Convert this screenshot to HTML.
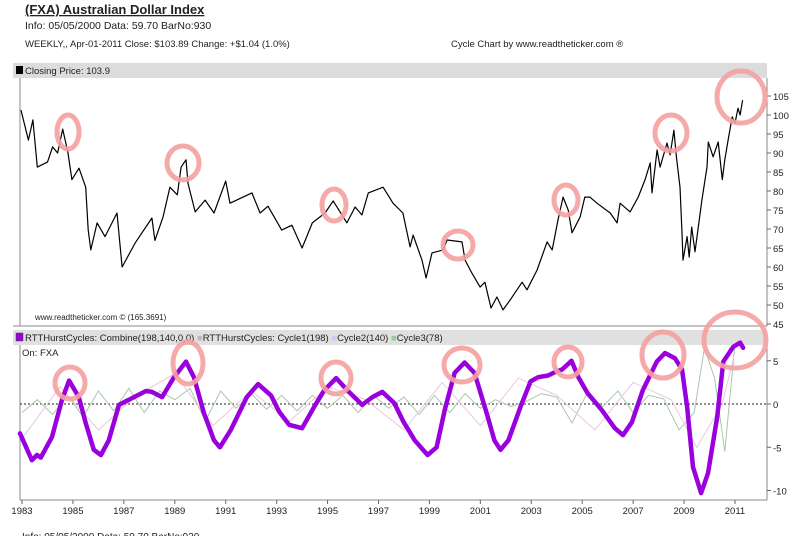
<!DOCTYPE html>
<html><head><meta charset="utf-8"><style>
body{margin:0;background:#fff;width:800px;height:536px;overflow:hidden;font-family:"Liberation Sans",sans-serif}
svg{position:absolute;left:0;top:0}
</style></head><body>
<svg width="800" height="536" font-family="Liberation Sans, sans-serif">
<text x="25" y="14" font-size="13" font-weight="bold" fill="#222" text-decoration="underline">(FXA) Australian Dollar Index</text>
<text x="25" y="29" font-size="10.5" fill="#222">Info: 05/05/2000 Data: 59.70 BarNo:930</text>
<text x="25" y="47" font-size="9.5" fill="#222">WEEKLY,, Apr-01-2011  Close: $103.89  Change: +$1.04  (1.0%)</text>
<text x="451" y="47" font-size="9.5" fill="#222">Cycle Chart by www.readtheticker.com ®</text>
<rect x="13" y="63" width="754" height="15" fill="#dcdcdc"/>
<rect x="16" y="66" width="7" height="8" fill="#000"/>
<text x="25" y="74" font-size="9.5" fill="#222">Closing Price: 103.9</text>
<line x1="20" y1="78" x2="20" y2="326" stroke="#888"/>
<line x1="13" y1="326" x2="767" y2="326" stroke="#888"/>
<line x1="767" y1="78" x2="767" y2="326" stroke="#888"/>
<text x="35" y="320" font-size="8" fill="#222">www.readtheticker.com © (165.3691)</text>
<rect x="13" y="330" width="754" height="15" fill="#e0e0e0"/>
<rect x="16" y="333" width="7" height="8" fill="#9900dd" stroke="#444" stroke-width="0.5"/>
<text x="25" y="341" font-size="9.5" fill="#222">RTTHurstCycles: Combine(198,140,0,0) <tspan fill="#bbb">■</tspan>RTTHurstCycles: Cycle1(198) <tspan fill="#ccf">■</tspan>Cycle2(140) <tspan fill="#9c9">■</tspan>Cycle3(78)</text>
<text x="22" y="356" font-size="9.5" fill="#222">On: FXA</text>
<line x1="20" y1="345" x2="20" y2="500" stroke="#888"/>
<line x1="20" y1="500" x2="767" y2="500" stroke="#888"/>
<line x1="767" y1="345" x2="767" y2="500" stroke="#888"/>
<line x1="20" y1="404" x2="767" y2="404" stroke="#222" stroke-dasharray="2,2"/>
<g id="grid"></g>
<g id="marks"></g>
<text x="22" y="540" font-size="10" fill="#222">Info: 05/05/2000 Data: 59.70 BarNo:930</text>
</svg>
<script>
const priceYears=[1982.96,1983.25,1983.43,1983.6,1984.0,1984.2,1984.4,1984.6,1984.8,1984.96,1985.24,1985.5,1985.6,1985.7,1985.95,1986.26,1986.73,1986.93,1987.44,1988.1,1988.22,1988.54,1988.81,1989.1,1989.25,1989.44,1989.52,1989.8,1990.19,1990.54,1991.0,1991.17,1992.03,1992.35,1992.66,1993.2,1993.6,1994.0,1994.4,1994.9,1995.22,1995.76,1996.08,1996.35,1996.6,1997.18,1997.57,1997.96,1998.24,1998.36,1998.71,1998.87,1999.1,1999.54,1999.69,2000.28,2000.4,2000.67,2000.99,2001.18,2001.42,2001.65,2001.89,2002.17,2002.64,2002.83,2003.23,2003.62,2003.82,2004.05,2004.25,2004.45,2004.6,2004.92,2005.1,2005.3,2005.58,2006.1,2006.37,2006.49,2006.88,2007.2,2007.47,2007.67,2007.74,2007.94,2008.06,2008.33,2008.45,2008.6,2008.7,2008.84,2008.92,2008.96,2009.12,2009.2,2009.3,2009.43,2009.7,2009.9,2009.95,2010.14,2010.34,2010.5,2010.6,2010.73,2010.89,2011.0,2011.12,2011.2,2011.3];
const priceValues=[101.3,93.4,98.7,86.3,87.6,91.6,90,96.3,90.3,83,86,81,69.7,64.5,71.6,68,74.2,60,66.3,72.9,67,73.2,81,79,86.3,88.2,82,74.5,77.6,74.2,82.6,76.8,79.5,74.2,76,69.7,71,65,71.6,74.2,77.4,71.6,75.8,73.7,79.5,81,76.8,74.2,65.3,68.4,61.8,57.1,63.7,64.5,67.1,66.6,61.8,58.4,54.7,56,49.2,52.1,48.7,51.3,56,54,59.2,66.6,64.5,72.4,78.4,75,69,73.2,78.4,78.4,76.8,74.2,71.6,76.8,74.5,78.4,83,87.4,79.5,90.8,86.3,92.6,89.5,96,89,81,69,61.8,68,62.6,70.5,64,77.6,86.3,92.9,89,92.9,83,88.2,93.4,99.5,97.9,101.8,100,103.9];
const cycleYears=[1982.92,1983.39,1983.59,1983.74,1984.18,1984.57,1984.85,1985.23,1985.5,1985.82,1986.1,1986.41,1986.81,1987.4,1987.87,1988.1,1988.5,1988.97,1989.44,1989.75,1990.14,1990.54,1990.77,1991.2,1991.83,1992.27,1992.78,1993.1,1993.49,1994.0,1994.48,1994.87,1995.34,1995.77,1996.36,1996.76,1997.15,1997.62,1997.97,1998.42,1998.93,1999.28,1999.6,1999.99,2000.38,2000.77,2001.24,2001.55,2001.79,2002.1,2002.58,2002.97,2003.27,2003.66,2003.94,2004.22,2004.58,2004.85,2005.2,2005.77,2006.28,2006.6,2006.95,2007.38,2007.93,2008.25,2008.64,2008.92,2009.12,2009.35,2009.67,2009.94,2010.3,2010.54,2010.93,2011.2,2011.32];
const cycleCombine=[-3.4,-6.5,-5.9,-6.2,-3.8,0.5,2.7,0.8,-2.2,-5.3,-5.9,-4.2,-0.1,0.8,1.5,1.4,0.8,3.1,4.9,3.1,-1.0,-4.2,-5,-3,0.8,2.3,1.0,-0.9,-2.4,-2.8,-0.3,1.6,3.0,1.6,-0.1,0.8,1.4,0.1,-2.0,-4.2,-5.9,-5,-0.7,3.6,4.8,3.6,-1.0,-4.2,-5.3,-4.2,-0.3,2.6,3.1,3.3,3.7,4.0,5.0,3.1,1.3,-0.7,-2.8,-3.6,-2.1,1.6,4.9,5.9,5.3,4.0,-0.3,-7.3,-10.3,-8.0,-1.5,4.9,6.6,7.1,6.5];
const cycle3Years=[1983,1983.6,1984.2,1984.8,1985.4,1986,1986.6,1987.2,1987.8,1988.4,1989,1989.6,1990.2,1990.8,1991.4,1992,1992.6,1993.2,1993.8,1994.4,1995,1995.6,1996.2,1996.8,1997.4,1998,1998.6,1999.2,1999.8,2000.4,2001,2001.6,2002.2,2002.8,2003.4,2004,2004.6,2005.2,2005.8,2006.4,2007,2007.6,2008.2,2008.8,2009.4,2009.8,2010.2,2010.6,2011];
const cycle3Values=[-1,0.5,-1.2,1,-1.5,1.5,-0.8,1.8,-1,1.5,0.5,1.8,-2,1.5,-0.5,1.2,-0.6,1.0,-0.8,1.0,-0.5,1.0,-1,1.0,-0.5,0.8,-1.2,1.0,-1.0,1.2,-0.5,0.5,-0.3,0.3,1.2,0.8,-2.2,1.3,-0.3,1.5,-1.0,1.0,0.6,-3,-1,6.5,3,-5.5,7];
const cycle1Years=[1983,1984.5,1986,1987.5,1989,1990.5,1992,1993.5,1995,1996.5,1998,1999.5,2001,2002.5,2004,2005.5,2007,2008.5,2009.5,2010.5,2011];
const cycle1Values=[-4,2,-3,1,3.5,-2.5,1.5,-2,2,0.5,-3,2.5,-2.5,3,1,-3,2.5,0.5,-5,0,6];
const priceTicks=[105,100,95,90,85,80,75,70,65,60,55,50,45];
const cycleTicks=[5,0,-5,-10];
const yearTicks=[1983,1985,1987,1989,1991,1993,1995,1997,1999,2001,2003,2005,2007,2009,2011];
const xS=y=>22+(y-1983)*25.464;
const pY=v=>96+(105-v)*3.8;
const cY=v=>404-v*8.65;
const NS='http://www.w3.org/2000/svg';
const grid=document.getElementById('grid'),marks=document.getElementById('marks');
function mk(tag,attrs,parent){const e=document.createElementNS(NS,tag);for(const k in attrs)e.setAttribute(k,attrs[k]);parent.appendChild(e);return e;}
priceTicks.forEach(v=>{
 mk('line',{x1:767,x2:771,y1:pY(v),y2:pY(v),stroke:'#666'},grid);
 const t=mk('text',{x:773,y:pY(v)+4,'font-size':9.5,fill:'#222'},grid);t.textContent=v;
 
 
});
cycleTicks.forEach(v=>{
 mk('line',{x1:767,x2:771,y1:cY(v),y2:cY(v),stroke:'#666'},grid);
 const t=mk('text',{x:773,y:cY(v)+4,'font-size':9.5,fill:'#222'},grid);t.textContent=v;
 
 
});
yearTicks.forEach(y=>{
 mk('line',{x1:xS(y),x2:xS(y),y1:500,y2:504,stroke:'#666'},grid);
 const t=mk('text',{x:xS(y),y:514,'font-size':9.5,fill:'#222','text-anchor':'middle'},grid);t.textContent=y;
 
 
});
function pts(xs,vs,f){return xs.map((x,i)=>xS(x).toFixed(1)+','+f(vs[i]).toFixed(1)).join(' ');}
const c3=mk('polyline',{points:pts(cycle3Years,cycle3Values,cY),fill:'none',stroke:'#a8c8a8','stroke-width':1},marks);


const c1=mk('polyline',{points:pts(cycle1Years,cycle1Values,cY),fill:'none',stroke:'#e8c8e0','stroke-width':1},marks);


const pl=mk('polyline',{points:pts(priceYears,priceValues,pY),fill:'none',stroke:'#000','stroke-width':1.2,'stroke-linejoin':'round'},marks);


const cl=mk('polyline',{points:pts(cycleYears,cycleCombine,cY),fill:'none',stroke:'#9900dd','stroke-width':4.5,'stroke-linejoin':'round','stroke-linecap':'round'},marks);


const circles=[[68,132,11,17],[183,163,16,17],[334,205,12,16],[458,245,15,14],[566,200,12,15],[671,133,16,18],[741,97,24,26],[70,383,15,16],[188,363,15,21],[336,378,15,16],[462,365,18,17],[568,362,14,15],[663,355,21,23],[735,340,31,28]];
circles.forEach(c=>{
 const e=mk('ellipse',{cx:c[0],cy:c[1],rx:c[2],ry:c[3],fill:'none',stroke:'#f5a0a0','stroke-width':5,opacity:0.9},marks);
 
 
});
</script>
</body></html>
